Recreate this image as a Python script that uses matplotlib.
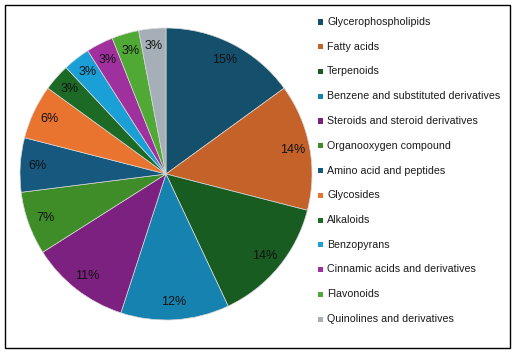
import matplotlib
matplotlib.use("Agg")
import matplotlib.pyplot as plt
from matplotlib.patches import Rectangle

categories = [
    "Glycerophospholipids", "Fatty acids", "Terpenoids",
    "Benzene and substituted derivatives", "Steroids and steroid derivatives",
    "Organooxygen compound", "Amino acid and peptides", "Glycosides",
    "Alkaloids", "Benzopyrans", "Cinnamic acids and derivatives",
    "Flavonoids", "Quinolines and derivatives",
]
values = [15, 14, 14, 12, 11, 7, 6, 6, 3, 3, 3, 3, 3]
colors = [
    "#144F6C", "#C5622A", "#185C22", "#1682B0", "#7C2180",
    "#3F8D29", "#17587F", "#E8742F", "#1D6A26", "#1A9FD6",
    "#A0309D", "#50A935", "#A6AFB7",
]

W, H = 515, 353
fig = plt.figure(figsize=(W / 100, H / 100), dpi=100)
fig.patch.set_facecolor("white")
plt.rcParams["font.family"] = ["Liberation Sans", "DejaVu Sans"]

# border
fig.patches.append(Rectangle((5 / W, 5 / H), (510 - 5) / W, (348 - 5) / H,
                             transform=fig.transFigure, fill=False,
                             edgecolor="black", linewidth=1.0))

cx, cy, r = 166, 174, 146
ax = fig.add_axes([(cx - r) / W, (H - cy - r) / H, 2 * r / W, 2 * r / H])
wedges, texts, autotexts = ax.pie(
    values, colors=colors, startangle=90, counterclock=False,
    autopct="%.0f%%", pctdistance=0.88,
    wedgeprops=dict(edgecolor="#d8d8d8", linewidth=0.5),
    textprops=dict(fontsize=9, color="#111111"),
)
ax.set_aspect("equal")
ax.set_xlim(-1, 1)
ax.set_ylim(-1, 1)
ax.axis("off")

# legend (manual)
y0, dy = 22, 24.75
for i, (cat, col) in enumerate(zip(categories, colors)):
    y = y0 + i * dy
    fig.patches.append(Rectangle((318 / W, (H - y - 2.5) / H), 5 / W, 5 / H,
                                 transform=fig.transFigure, facecolor=col,
                                 edgecolor="none"))
    fig.text(327 / W, (H - y) / H, cat, fontsize=7.7, color="#1a1a1a",
             va="center", ha="left")

fig.savefig("out.png", dpi=100)
